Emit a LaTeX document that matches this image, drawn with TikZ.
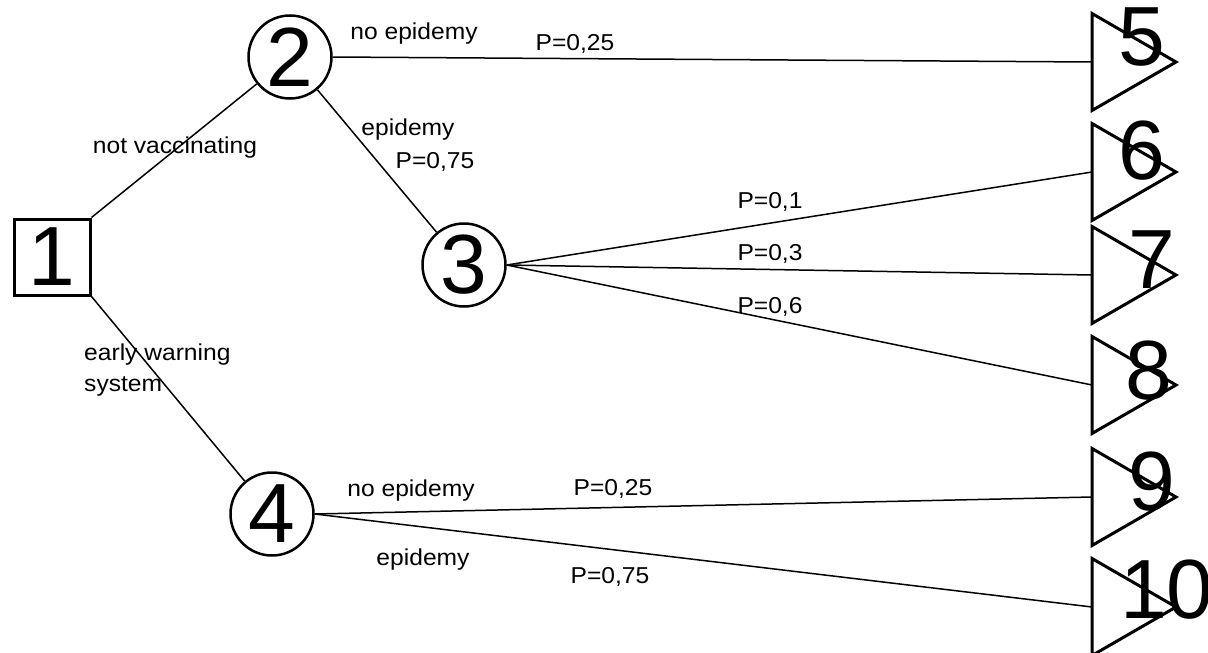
\documentclass[tikz,border=0pt]{standalone}
\usepackage{fontspec}
\setmainfont{Liberation Sans}
\newfontfamily\lblfont[FakeStretch=1.07]{Liberation Sans}
\usetikzlibrary{shapes.geometric}
\begin{document}
\begin{tikzpicture}[x=1pt,y=-1pt,
  conn/.style={line width=1.5pt},
  bigfont/.style={font=\fontsize{84}{84}\selectfont},
  chance/.style={circle,draw,line width=2.5pt,minimum size=83pt,inner sep=0pt,bigfont},
  decision/.style={rectangle,draw,line width=3pt,minimum size=76pt,inner sep=0pt,bigfont},
  endtri/.style={isosceles triangle,draw,line width=3pt,isosceles triangle stretches,
    minimum width=97pt,minimum height=84pt,inner sep=0pt,outer sep=0pt,anchor=west},
  endnum/.style={inner sep=0pt,bigfont},
  lbl/.style={inner sep=0pt,anchor=base,font=\lblfont\fontsize{23}{23}\selectfont},
  lbll/.style={lbl,anchor=base west}]
\fill[white] (0,0) rectangle (1208,653);
\useasboundingbox (0,0) rectangle (1208,653);

% decision and chance nodes
\node[decision] (n1) at (52,257) {1};
\node[chance] (n2) at (290,57) {2};
\node[chance] (n3) at (464,265) {3};
\node[chance] (n4) at (272,514) {4};

% end triangles
\node[endtri] (t5) at (1092,62) {};
\node[endtri] (t6) at (1092,172) {};
\node[endtri] (t7) at (1092,275) {};
\node[endtri] (t8) at (1092,385) {};
\node[endtri] (t9) at (1092,497) {};
\node[endtri] (t10) at (1092,607) {};

\node[endnum] (d5) at (1142,37) {5};
\node[endnum] (d6) at (1142,151) {6};
\node[endnum] (d7) at (1152,260) {7};
\node[endnum] (d8) at (1149,371) {8};
\node[endnum] (d9) at (1152,482) {9};
\node[endnum] (d10) at (1167,590) {10};

% connectors
\draw[conn] (n1.north east) -- (n2);
\draw[conn] (n1.south east) -- (n4);
\draw[conn] (n2) -- (n3);
\draw[conn] (n2.east) -- (t5.west);
\draw[conn] (n3.east) -- (t6.west);
\draw[conn] (n3.east) -- (t7.west);
\draw[conn] (n3.east) -- (t8.west);
\draw[conn] (n4.east) -- (t9.west);
\draw[conn] (n4.east) -- (t10.west);

% labels
\node[lbl] (l1) at (414,39) {no epidemy};
\node[lbl] (l2) at (575,50) {P=0,25};
\node[lbl] (l3) at (175,153) {not vaccinating};
\node[lbl] (l4) at (408,135) {epidemy};
\node[lbl] (l5) at (435,168) {P=0,75};
\node[lbl] (l6) at (770,208) {P=0,1};
\node[lbl] (l7) at (770,260) {P=0,3};
\node[lbl] (l8) at (770,313) {P=0,6};
\node[lbll] (l9) at (84,360) {early warning};
\node[lbll] (l10) at (84,391) {system};
\node[lbl] (l11) at (411,496) {no epidemy};
\node[lbl] (l12) at (613,495) {P=0,25};
\node[lbl] (l13) at (423,565) {epidemy};
\node[lbl] (l14) at (610,583) {P=0,75};
\end{tikzpicture}
\end{document}
